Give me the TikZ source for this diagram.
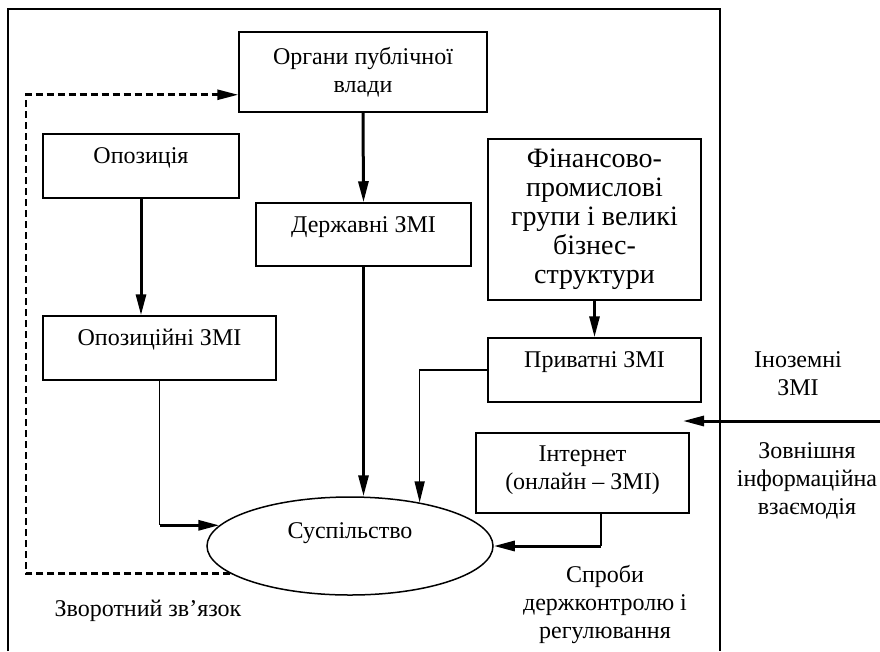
\documentclass[tikz,border=0pt]{standalone}
\usepackage{fontspec}
\setmainfont{Liberation Serif}
\usetikzlibrary{arrows.meta,calc,shapes.geometric}
\newcommand\liftt[2]{\raisebox{#1}[\height][\depth]{#2}}
\tikzset{
  box/.style={draw, line width=1.5pt, inner sep=0pt, align=center,
    font=\fontsize{24}{28}\selectfont},
  txt/.style={inner sep=0pt, align=center, font=\fontsize{24}{28}\selectfont},
  thinline/.style={line width=1.5pt},
  thickline/.style={line width=3pt},
  tip/.style={-{Triangle[length=21pt,width=10pt]}},
  fbline/.style={line width=2.6pt, dash pattern=on 7pt off 4pt},
  frame/.style={line width=1.5pt}
}
\begin{document}
\begin{tikzpicture}[x=1pt,y=-1pt]
\useasboundingbox (0,0) rectangle (880,651);
% outer frame
\draw[frame] (8,651) -- (8,9) -- (720,9) -- (720,651);

\node[box, minimum width=248pt, minimum height=80pt] (org) at (363,72) {Органи публічної\\влади};
\node[box, minimum width=196pt, minimum height=64pt] (opoz) at (141,166) {\liftt{8pt}{Опозиція}};
\node[box, minimum width=215pt, minimum height=63pt] (derzh) at (363.5,234.5) {\liftt{7pt}{Державні ЗМІ}};
\node[box, minimum width=233pt, minimum height=64pt] (ozmi) at (159.5,348) {\liftt{8pt}{Опозиційні ЗМІ}};
\node[box, minimum width=213pt, minimum height=161pt, font=\fontsize{28}{29}\selectfont] (fin) at (594.5,219.5) {Фінансово-\\промислові\\групи і великі\\бізнес-\\структури};
\node[box, minimum width=213pt, minimum height=64pt] (priv) at (594.5,370) {\liftt{8pt}{Приватні ЗМІ}};
\node[box, minimum width=213pt, minimum height=80pt] (inet) at (582.5,473) {\liftt{3pt}{\begin{tabular}{@{}c@{}}Інтернет\\(онлайн – ЗМІ)\end{tabular}}};
\node[box, ellipse, minimum width=286pt, minimum height=98pt] (ell) at (350,546) {\liftt{13pt}{Суспільство}};

\node[txt] (foreign) at (798,374) {Іноземні\\ЗМІ};
\node[txt] (ext) at (807,481) {Зовнішня\\інформаційна\\взаємодія};
\node[txt] (ctrl) at (605,604) {Спроби\\держконтролю і\\регулювання};
\node[txt] (fbtext) at (148,611) {Зворотний зв’язок};

% connectors
\draw[thickline, tip] (org.south) -- (derzh.north);
\draw[thickline, tip] (opoz.south) -- (opoz.south |- ozmi.north);
\draw[thickline, tip] (derzh.south) -- (derzh.south |- ell.north);
\draw[thickline, tip] (fin.south) -- (priv.north);

\draw[thinline] (ozmi.south) -- (ozmi.south |- ell.171);
\draw[thickline, tip] (ozmi.south |- ell.171) -- (ell.171);

\draw[thinline, tip] (priv.west) -| (ell.32);

\coordinate (inetout) at ($(inet.south)+(18.5,0)$);
\draw[thinline] (inetout) -- (inetout |- ell.east);
\draw[thickline, tip] (inetout |- ell.east) -- (ell.east);

\coordinate (extstart) at (880,421);
\coordinate (extend) at (683,421);
\draw[thickline, tip] (extstart) -- (extend);

\coordinate (fbcorner) at (26,574);
\coordinate (fbtarget) at ($(org.south west)+(0,-18)$);
\draw[fbline, tip] (ell.193.5) -- (ell.193.5 -| fbcorner) |- (fbtarget);
\end{tikzpicture}
\end{document}
